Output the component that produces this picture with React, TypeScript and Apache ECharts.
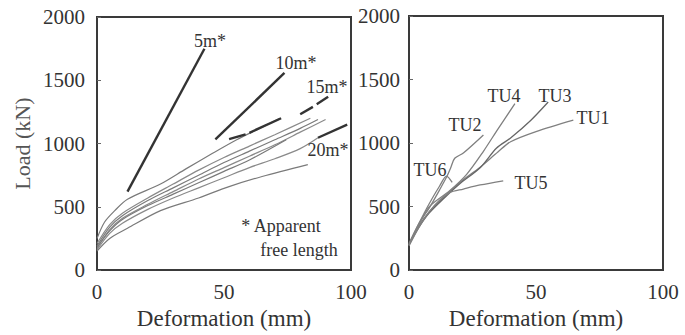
import React, { useEffect, useRef } from "react";
import * as echarts from "echarts";

// Left chart: load-deformation curves (mm, kN)
const leftThin: number[][][] = [
  [[0, 250], [3, 380], [7, 470], [12, 560], [25, 680], [35, 800], [45, 917], [55, 1030], [64, 1120], [72, 1200]],
  [[0, 210], [5, 360], [10, 450], [20, 570], [30, 680], [40, 790], [50, 890], [60, 980], [70, 1070], [84, 1200]],
  [[0, 190], [5, 340], [10, 430], [20, 550], [30, 650], [40, 750], [50, 850], [60, 940], [70, 1030], [80, 1120], [87, 1190]],
  [[0, 170], [5, 320], [10, 410], [20, 520], [30, 620], [40, 720], [50, 810], [60, 900], [70, 990], [80, 1090], [90, 1190]],
  [[0, 180], [5, 310], [10, 400], [20, 510], [30, 600], [40, 690], [50, 780], [60, 870], [74.5, 1030]],
  [[0, 160], [5, 290], [10, 370], [20, 480], [30, 570], [40, 650], [50, 730], [60, 810], [70, 880], [80, 960], [87, 1046]],
  [[0, 150], [5, 250], [12, 330], [25, 470], [40, 570], [52, 660], [65, 740], [83, 834]],
];
// Apparent free length reference segments
const leftThick: number[][][] = [
  [[12, 620], [42.3, 1749]],
  [[46.6, 1033], [73.8, 1558]],
  [[52, 1035], [58.5, 1072]],
  [[60, 1085], [72.5, 1200]],
  [[80, 1232], [85, 1290]],
  [[86.5, 1310], [91, 1369]],
  [[87, 1046], [98.5, 1150]],
];
const leftLabels = ["5m*", "10m*", "15m*", "20m*"];

// Right chart: TU anchors
const tuNames = ["TU1", "TU2", "TU3", "TU4", "TU5", "TU6"];
const tu1 = [[0, 200], [4, 350], [8, 460], [14, 580], [20, 690], [28, 810], [35, 930], [40, 1010], [50, 1090], [64.7, 1180]];
const tu2 = [[0, 210], [4, 370], [8, 490], [12, 630], [15, 740], [16.5, 810], [18, 880], [21.4, 922], [29.3, 1064]];
const tu3 = [[0, 200], [4, 340], [8, 450], [14, 570], [20, 680], [28, 806], [34.5, 961], [40, 1040], [48, 1180], [54.8, 1323]];
const tu4 = [[0, 200], [4, 360], [8, 500], [16, 625], [22.7, 754], [29.3, 935], [35, 1110], [41.7, 1310]];
const tu5 = [[0, 190], [4, 340], [8, 460], [12, 550], [16, 610], [21.4, 638], [28, 670], [37.1, 703]];
const tu6 = [[0, 200], [3, 330], [6, 450], [9, 560], [12, 660], [14.8, 740], [17, 690]];
const tuData = [tu1, tu2, tu3, tu4, tu5, tu6];

const xTicks = [0, 50, 100];
const yTicks = [0, 500, 1000, 1500, 2000];

const FONT = "'Liberation Serif', 'DejaVu Serif', serif";

export default function App() {
  const ref = useRef<HTMLDivElement>(null);
  useEffect(() => {
    if (!ref.current) return;
    const chart = echarts.init(ref.current, undefined, { renderer: "svg" });
    const fmt = (v: number) => String(v);
    const axisX = (gridIndex: number) => ({
      type: "value" as const,
      gridIndex,
      min: xTicks[0],
      max: xTicks[xTicks.length - 1],
      interval: 50,
      name: "Deformation (mm)",
      nameLocation: "middle" as const,
      nameGap: 32,
      nameTextStyle: { fontFamily: FONT, fontSize: 23, color: "#333" },
      axisLine: { show: false },
      axisTick: { show: false },
      splitLine: { show: false },
      axisLabel: { fontFamily: FONT, fontSize: 21, color: "#333", margin: 11, formatter: fmt },
    });
    const axisY = (gridIndex: number, withName: boolean, margin: number) => ({
      type: "value" as const,
      gridIndex,
      min: yTicks[0],
      max: yTicks[yTicks.length - 1],
      interval: 500,
      name: withName ? "Load (kN)" : "",
      nameLocation: "middle" as const,
      nameGap: 64,
      nameTextStyle: { fontFamily: FONT, fontSize: 22, color: "#555" },
      axisLine: { show: false },
      axisTick: { show: true, inside: true, length: 4, lineStyle: { color: "#666", width: 1 } },
      splitLine: { show: false },
      axisLabel: { fontFamily: FONT, fontSize: 21, color: "#333", margin, formatter: fmt, padding: [5, 0, 0, 0] },
    });
    const series: any[] = [];
    leftThin.forEach((d, i) =>
      series.push({
        type: "line", xAxisIndex: 0, yAxisIndex: 0, data: d, smooth: 0.3, showSymbol: false,
        lineStyle: { color: i % 2 ? "#8a8a8a" : "#7a7a7a", width: 1.2 },
      })
    );
    leftThick.forEach((d) =>
      series.push({
        type: "line", xAxisIndex: 0, yAxisIndex: 0, data: d, showSymbol: false,
        lineStyle: { color: "#333", width: 2.4 },
      })
    );
    tuData.forEach((d, i) =>
      series.push({
        type: "line", xAxisIndex: 1, yAxisIndex: 1, data: d, smooth: 0.3, showSymbol: false,
        name: tuNames[i],
        lineStyle: { color: i === 2 ? "#666" : "#808080", width: 1.3 },
      })
    );
    const txt = (text: string, x: number, y: number, size = 18) => ({
      type: "text",
      x, y,
      style: { text, fontFamily: FONT, fontSize: size, fill: "#333", align: "center", verticalAlign: "middle" },
      z: 10,
    });
    chart.setOption({
      animation: false,
      backgroundColor: "#fff",
      textStyle: { fontFamily: FONT },
      grid: [
        { left: 97, top: 17, width: 254, height: 258, show: true, borderColor: "#3a3a3a", borderWidth: 2, backgroundColor: "transparent" },
        { left: 409, top: 16, width: 254, height: 258, show: true, borderColor: "#3a3a3a", borderWidth: 2, backgroundColor: "transparent" },
      ],
      xAxis: [axisX(0), axisX(1)],
      yAxis: [axisY(0, true, 12), axisY(1, false, 9)],
      series,
      graphic: [
        txt(leftLabels[0], 210, 41),
        txt(leftLabels[1], 296, 63),
        txt(leftLabels[2], 327, 87),
        txt(leftLabels[3], 328, 150),
        txt("* Apparent", 281, 226),
        txt("free length", 299, 250),
        txt(tuNames[3], 504, 96),
        txt(tuNames[2], 555, 96),
        txt(tuNames[0], 593, 118),
        txt(tuNames[1], 465, 125),
        txt(tuNames[5], 430, 170),
        txt(tuNames[4], 531, 183),
      ],
    });
    return () => chart.dispose();
  }, []);
  return <div ref={ref} style={{ position: "fixed", left: 0, top: 0, width: 685, height: 335 }} />;
}
